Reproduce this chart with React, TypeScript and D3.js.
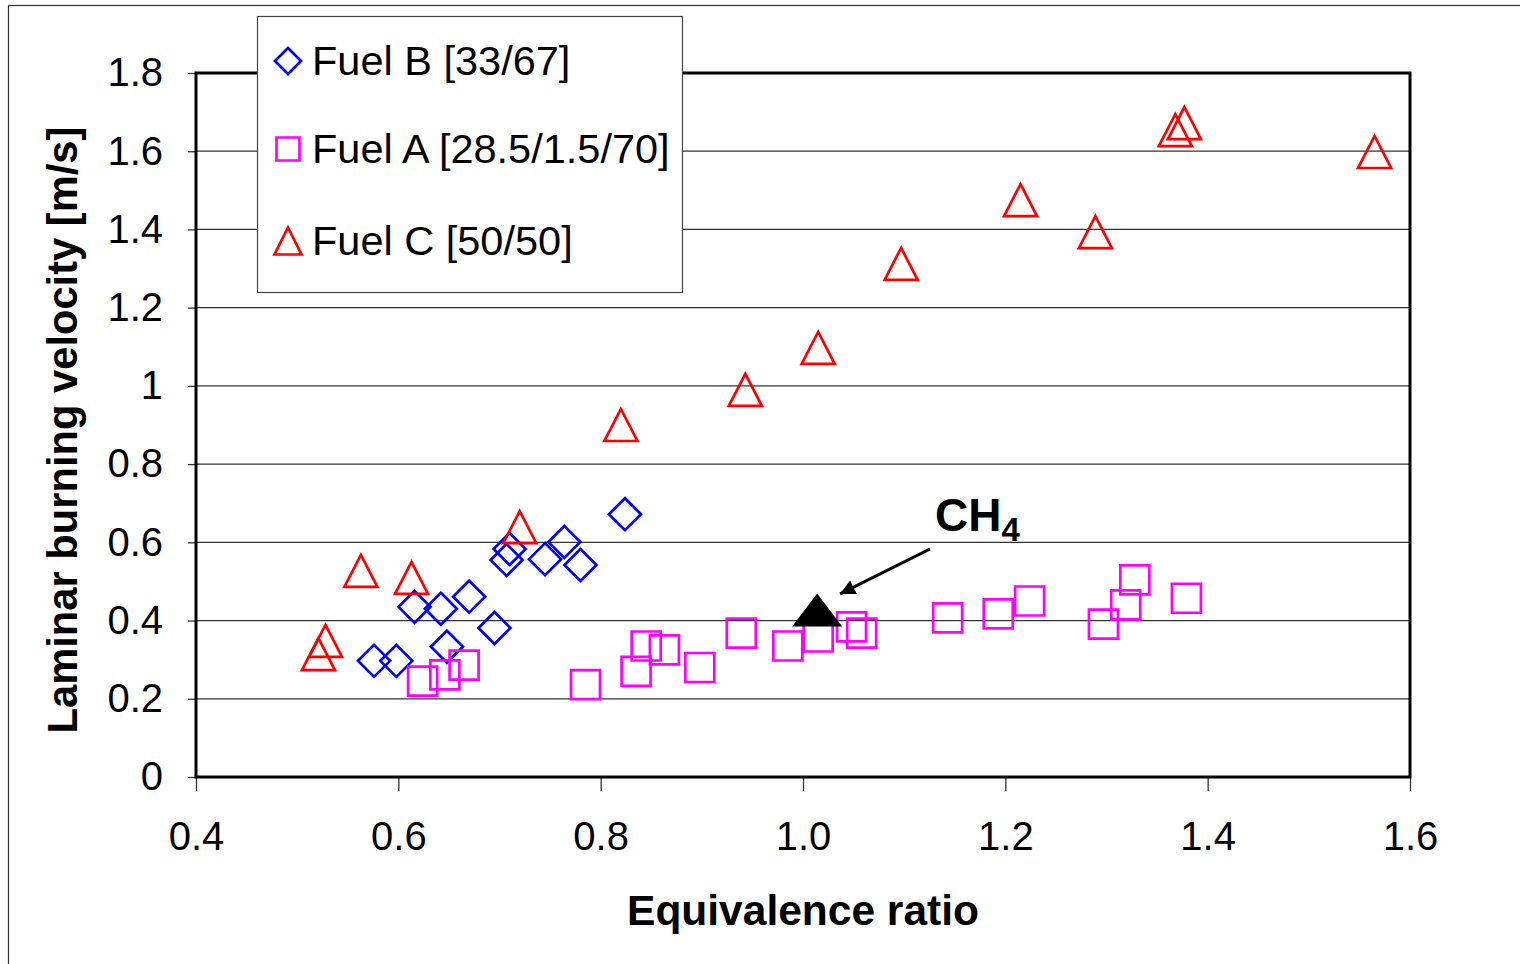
import React, { useRef, useEffect } from "react";
import * as d3 from "d3";

// Fuel B [33/67] - blue diamonds
const fuelBPhi = [0.576, 0.598, 0.616, 0.642, 0.648, 0.670, 0.695, 0.707, 0.710, 0.745, 0.764, 0.780, 0.824];
const fuelBSl = [0.297, 0.297, 0.435, 0.430, 0.333, 0.461, 0.381, 0.555, 0.583, 0.557, 0.601, 0.542, 0.672];

// Fuel A [28.5/1.5/70] - magenta squares
const fuelAPhi = [0.624, 0.646, 0.665, 0.785, 0.835, 0.845, 0.863, 0.898, 0.939, 0.985, 1.015, 1.048, 1.058, 1.143, 1.193, 1.224, 1.297, 1.319, 1.328, 1.379];
const fuelASl = [0.245, 0.261, 0.286, 0.236, 0.270, 0.335, 0.325, 0.280, 0.368, 0.335, 0.358, 0.384, 0.368, 0.407, 0.417, 0.450, 0.391, 0.440, 0.504, 0.457];

// Fuel C [50/50] - red triangles
const fuelCPhi = [0.521, 0.528, 0.563, 0.613, 0.720, 0.820, 0.943, 1.015, 1.097, 1.215, 1.289, 1.368, 1.377, 1.565];
const fuelCSl = [0.314, 0.348, 0.527, 0.509, 0.639, 0.900, 0.990, 1.097, 1.312, 1.475, 1.393, 1.654, 1.672, 1.598];

// methane reference point
const ch4Phi = [1.014];
const ch4Sl = [0.427];

const xTicks = [0.4, 0.6, 0.8, 1.0, 1.2, 1.4, 1.6];
const xTickLabels = ["0.4", "0.6", "0.8", "1.0", "1.2", "1.4", "1.6"];
const yTicks = [0, 0.2, 0.4, 0.6, 0.8, 1, 1.2, 1.4, 1.6, 1.8];
const yTickLabels = ["0", "0.2", "0.4", "0.6", "0.8", "1", "1.2", "1.4", "1.6", "1.8"];

const seriesNames = ["Fuel B [33/67]", "Fuel A [28.5/1.5/70]", "Fuel C [50/50]"];

const FONT = "Arial, 'Liberation Sans', Helvetica, sans-serif";

const diamond = (cx: number, cy: number, r: number) =>
  `M${cx},${cy - r}L${cx + r},${cy}L${cx},${cy + r}L${cx - r},${cy}Z`;
const square = (cx: number, cy: number, r: number) =>
  `M${cx - r},${cy - r}H${cx + r}V${cy + r}H${cx - r}Z`;
const triangle = (cx: number, cy: number, w: number, h: number) =>
  `M${cx},${cy - h / 2}L${cx + w / 2},${cy + h / 2}L${cx - w / 2},${cy + h / 2}Z`;

const App = () => {
  const svgRef = useRef<SVGSVGElement>(null);

  useEffect(() => {
    const svg = d3.select(svgRef.current);
    svg.selectAll("*").remove();

    const margin = { top: 73, right: 110, bottom: 187, left: 196 };
    const W = 1520, H = 964;
    const width = W - margin.left - margin.right;
    const height = H - margin.top - margin.bottom;

    const x = d3.scaleLinear().domain([0.4, 1.6]).range([margin.left, margin.left + width]);
    const y = d3.scaleLinear().domain([0, 1.8]).range([margin.top + height, margin.top]);

    // outer figure border
    svg
      .append("rect")
      .attr("x", 8.5)
      .attr("y", 5.5)
      .attr("width", 1560)
      .attr("height", 1000)
      .attr("fill", "white")
      .attr("stroke", "#333")
      .attr("stroke-width", 1.2);

    // horizontal gridlines
    svg
      .append("g")
      .selectAll("line")
      .data(yTicks.slice(1))
      .join("line")
      .attr("x1", x(0.4))
      .attr("x2", x(1.6))
      .attr("y1", (d) => y(d))
      .attr("y2", (d) => y(d))
      .attr("stroke", "#333")
      .attr("stroke-width", 1.3);

    // y axis
    const yAxis = svg
      .append("g")
      .attr("transform", `translate(${x(0.4)},0)`)
      .call(
        d3
          .axisLeft(y)
          .tickValues(yTicks)
          .tickSize(8)
          .tickPadding(25)
          .tickFormat((d, i) => yTickLabels[i])
      );
    yAxis.select(".domain").remove();
    yAxis.selectAll("line").attr("stroke", "#333").attr("stroke-width", 1.3);
    yAxis
      .selectAll("text")
      .attr("font-family", FONT)
      .attr("font-size", 40)
      .attr("fill", "black");

    // x axis
    const xAxis = svg
      .append("g")
      .attr("transform", `translate(0,${y(0)})`)
      .call(
        d3
          .axisBottom(x)
          .tickValues(xTicks)
          .tickSize(14)
          .tickPadding(31)
          .tickFormat((d, i) => xTickLabels[i])
      );
    xAxis.select(".domain").remove();
    xAxis.selectAll("line").attr("stroke", "#333").attr("stroke-width", 1.3);
    xAxis
      .selectAll("text")
      .attr("font-family", FONT)
      .attr("font-size", 40)
      .attr("fill", "black");

    // plot frame
    svg
      .append("rect")
      .attr("x", x(0.4))
      .attr("y", y(1.8))
      .attr("width", x(1.6) - x(0.4))
      .attr("height", y(0) - y(1.8))
      .attr("fill", "none")
      .attr("stroke", "black")
      .attr("stroke-width", 3);

    // Fuel B
    svg
      .append("g")
      .selectAll("path")
      .data(fuelBPhi.map((p, i) => [p, fuelBSl[i]]))
      .join("path")
      .attr("d", (d) => diamond(x(d[0]), y(d[1]), 16))
      .attr("fill", "none")
      .attr("stroke", "#0000ff")
      .attr("stroke-width", 2.7);

    // Fuel A
    svg
      .append("g")
      .selectAll("path")
      .data(fuelAPhi.map((p, i) => [p, fuelASl[i]]))
      .join("path")
      .attr("d", (d) => square(x(d[0]), y(d[1]), 14.5))
      .attr("fill", "none")
      .attr("stroke", "#ff00ff")
      .attr("stroke-width", 2.7);

    // Fuel C
    svg
      .append("g")
      .selectAll("path")
      .data(fuelCPhi.map((p, i) => [p, fuelCSl[i]]))
      .join("path")
      .attr("d", (d) => triangle(x(d[0]), y(d[1]), 33, 32))
      .attr("fill", "none")
      .attr("stroke", "#ff0000")
      .attr("stroke-width", 2.7)
      .attr("stroke-linejoin", "miter");

    // CH4 reference
    svg
      .append("g")
      .selectAll("path")
      .data(ch4Phi.map((p, i) => [p, ch4Sl[i]]))
      .join("path")
      .attr("d", (d) => triangle(x(d[0]), y(d[1]), 50, 33))
      .attr("fill", "black");

    // arrow + label
    svg
      .append("defs")
      .append("marker")
      .attr("id", "arrowHead")
      .attr("viewBox", "0 0 10 10")
      .attr("refX", 10)
      .attr("refY", 5)
      .attr("markerWidth", 6)
      .attr("markerHeight", 5)
      .attr("markerUnits", "strokeWidth")
      .attr("orient", "auto")
      .append("path")
      .attr("d", "M0,0L10,5L0,10Z")
      .attr("fill", "black");

    svg
      .append("line")
      .attr("x1", x(1.1255))
      .attr("y1", y(0.583))
      .attr("x2", x(1.0366))
      .attr("y2", y(0.468))
      .attr("stroke", "black")
      .attr("stroke-width", 3)
      .attr("marker-end", "url(#arrowHead)");

    const ch4 = svg
      .append("text")
      .attr("x", x(1.1305))
      .attr("y", y(0.629))
      .attr("font-family", FONT)
      .attr("font-weight", "bold")
      .attr("font-size", 46)
      .attr("fill", "black");
    ch4.append("tspan").text("CH");
    ch4.append("tspan").attr("dy", 10).attr("font-size", 33).text("4");

    // axis titles
    svg
      .append("text")
      .attr("x", (x(0.4) + x(1.6)) / 2)
      .attr("y", 925)
      .attr("text-anchor", "middle")
      .attr("font-family", FONT)
      .attr("font-weight", "bold")
      .attr("font-size", 42.5)
      .text("Equivalence ratio");

    svg
      .append("text")
      .attr("transform", `translate(77,430) rotate(-90)`)
      .attr("text-anchor", "middle")
      .attr("font-family", FONT)
      .attr("font-weight", "bold")
      .attr("font-size", 41.7)
      .text("Laminar burning velocity [m/s]");

    // legend
    const legend = svg.append("g").attr("transform", "translate(257,16)");
    legend
      .append("rect")
      .attr("x", 0.5)
      .attr("y", 0.5)
      .attr("width", 425)
      .attr("height", 276)
      .attr("fill", "white")
      .attr("stroke", "#444")
      .attr("stroke-width", 1.2);

    const rowY = [45, 133, 225];
    const markerPaths = [
      (cy: number) => diamond(31, cy, 13),
      (cy: number) => square(31, cy, 11.5),
      (cy: number) => triangle(31, cy, 27, 27),
    ];
    const markerColors = ["#0000ff", "#ff00ff", "#ff0000"];

    const rows = legend
      .selectAll("g.row")
      .data(seriesNames)
      .join("g")
      .attr("class", "row");
    rows
      .append("path")
      .attr("d", (d, i) => markerPaths[i](rowY[i]))
      .attr("fill", "none")
      .attr("stroke", (d, i) => markerColors[i])
      .attr("stroke-width", 2.7);
    rows
      .append("text")
      .attr("x", 55)
      .attr("y", (d, i) => rowY[i] + 14)
      .attr("font-family", FONT)
      .attr("font-size", 41.5)
      .text((d) => d);
  }, []);

  return (
    <svg
      ref={svgRef}
      width={1520}
      height={964}
      style={{ position: "absolute", left: 0, top: 0, background: "white" }}
    ></svg>
  );
};

export default App;
